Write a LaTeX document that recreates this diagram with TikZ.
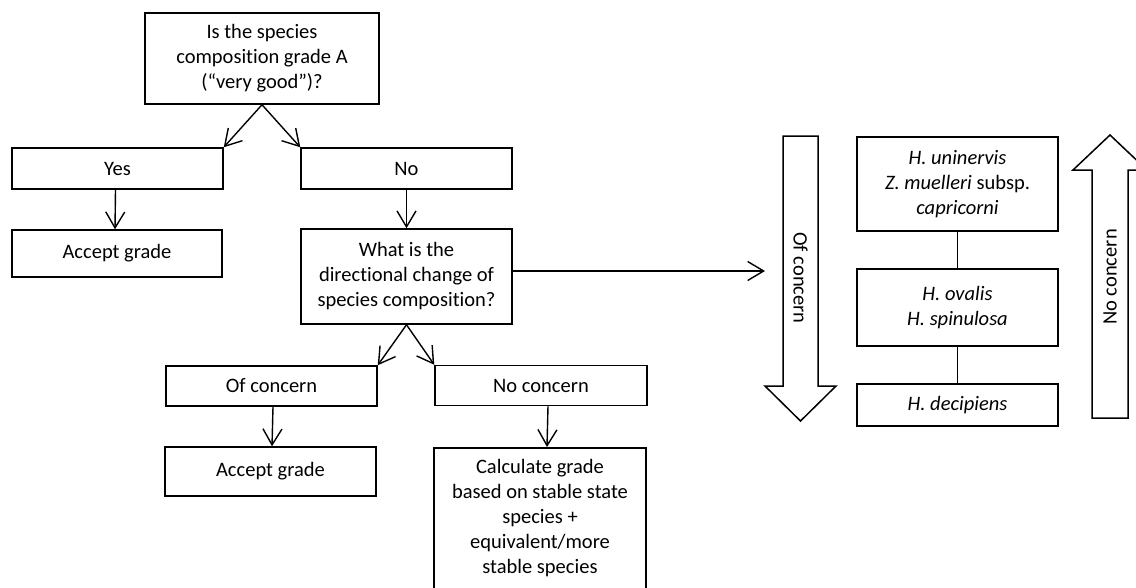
\documentclass[tikz,border=0pt]{standalone}
\usepackage{fontspec}
\setmainfont{Carlito}[Ligatures=NoCommon]
\usetikzlibrary{arrows.meta}
\tikzset{
    box/.style={draw, line width=1.5pt, align=center, inner sep=0pt, font=\fontsize{20.5}{25}\selectfont},
    arr/.style={line width=1.4pt, -{Straight Barb[length=16pt,width=19pt]}},
    link/.style={line width=1.4pt},
    blockarrow/.style={draw, line width=1.5pt, line join=miter},
    label/.style={font=\fontsize{20.5}{25}\selectfont}
}
\begin{document}
\begin{tikzpicture}[x=1pt,y=-1pt]
    \useasboundingbox (0,0) rectangle (1136,587);
    % decision tree
    \node[box, minimum width=234pt, minimum height=91pt] (top) at (262,58.5) {Is the species\\composition grade A\\(“very good”)?};
    \node[box, minimum width=211pt, minimum height=41pt] (yes) at (117.5,168.5) {Yes};
    \node[box, minimum width=211pt, minimum height=41pt] (no) at (406.5,168.5) {No};
    \node[box, minimum width=210pt, minimum height=47pt] (acc1) at (117,253.5) {Accept grade};
    \node[box, minimum width=211pt, minimum height=95pt] (what) at (406.5,276.5) {What is the\\directional change of\\species composition?};
    \node[box, minimum width=211pt, minimum height=40pt] (ofc) at (271.5,386) {Of concern};
    \node[box, minimum width=212pt, minimum height=40pt] (noc) at (541,385.5) {No concern};
    \node[box, minimum width=211pt, minimum height=49pt] (acc2) at (270.5,471.5) {Accept grade};
    \node[box, minimum width=212pt, anchor=north, inner ysep=12pt] (calc) at (540,447) {Calculate grade\\based on stable state\\species +\\equivalent/more\\stable species};
    \draw[arr] (top.south) -- (yes.north east);
    \draw[arr] (top.south) -- (no.north west);
    \draw[arr] ([xshift=-2pt]yes.south) -- ([xshift=-2pt]acc1.north);
    \draw[arr] (no.south) -- (what.north);
    \draw[arr] (what.south) -- (ofc.north east);
    \draw[arr] (what.south) -- (noc.north west);
    \draw[arr] ([xshift=1.5pt]ofc.south) -- ([xshift=1.5pt]acc2.north);
    \draw[arr] ([xshift=7pt]noc.south) -- ([xshift=7pt]calc.north);
    \coordinate (end) at (765,271);
    \draw[arr] (what.east |- end) -- (end);
    % species ranking
    \node[box, minimum width=201pt, minimum height=94pt] (sp1) at (957.5,184) {\textit{H. uninervis}\\\textit{Z. muelleri} subsp.\\\textit{capricorni}};
    \node[box, minimum width=201pt, minimum height=77pt] (sp2) at (957.5,307.5) {\textit{H. ovalis}\\\textit{H. spinulosa}};
    \node[box, minimum width=201pt, minimum height=42pt] (sp3) at (957.5,405) {\textit{H. decipiens}};
    \draw[link] (sp1.south) -- (sp2.north);
    \draw[link] (sp2.south) -- (sp3.north);
    % block arrows
    \draw[blockarrow] (783,136) -- (818,136) -- (818,386) -- (836,386) -- (800.5,421) -- (765,386) -- (783,386) -- cycle;
    \draw[blockarrow] (1092,418) -- (1128,418) -- (1128,170) -- (1147,170) -- (1110,135) -- (1073,170) -- (1092,170) -- cycle;
    \node[label, rotate=-90] (ofcl) at (800.5,278) {Of concern};
    \node[label, rotate=90] (nocl) at (1110,277) {No concern};
\end{tikzpicture}
\end{document}
